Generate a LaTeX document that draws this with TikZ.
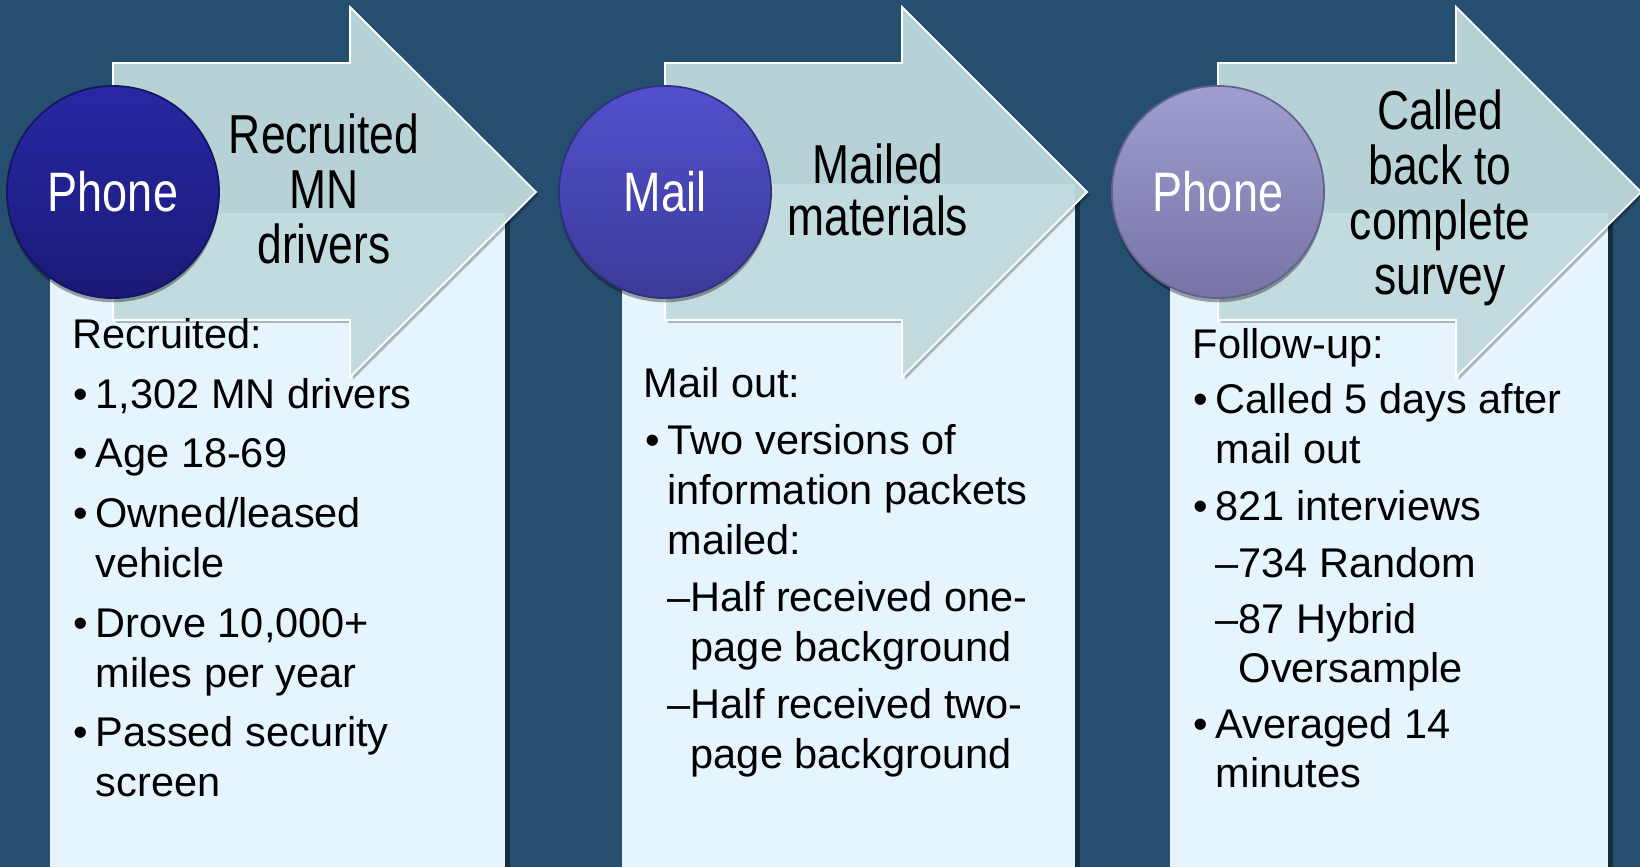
\documentclass[tikz,border=0pt]{standalone}
\usepackage{fontspec}
\setmainfont{Liberation Sans}
\newfontfamily\narrowsans[FakeStretch=0.81]{Liberation Sans}
\usetikzlibrary{shadows}
\definecolor{slide}{RGB}{38,78,110}
\definecolor{panelfill}{RGB}{230,244,253}
\definecolor{chevronfill}{RGB}{195,222,225}
\newcommand{\dotitem}{\llap{\textbullet\hspace{2.1pt}}}

\begin{document}
\begin{tikzpicture}[x=0.01cm, y=-0.01cm,
	panel/.style={fill=panelfill, drop shadow={shadow xshift=1.4pt, shadow yshift=0pt, opacity=.4, fill=black}},
	chevron/.style={fill=chevronfill, fill opacity=.93, draw=white, line width=0.5pt, line join=miter,
		drop shadow={shadow xshift=0.8pt, shadow yshift=-0.8pt, opacity=.25, fill=black}},
	disc/.style={circle, minimum size=2.12cm, inner sep=0pt, text=white, line width=0.5pt,
		font=\narrowsans\fontsize{15.8}{15.8}\selectfont,
		drop shadow={shadow xshift=0pt, shadow yshift=-1.2pt, opacity=.35, fill=black}},
	flowtext/.style={align=center, inner sep=0pt, font=\narrowsans\fontsize{15.6}{15.6}\selectfont},
	body/.style={anchor=base west, inner sep=0pt, font=\fontsize{11.8}{14}\selectfont}]
	\useasboundingbox (0,0) rectangle (1640,867);
	\fill[slide] (0,0) rectangle (1640,867);
	% panels
	\fill[panel] (50,213) rectangle (505,900);
	\fill[panel] (622,184) rectangle (1075,900);
	\fill[panel] (1170,213) rectangle (1608,900);
	% arrows
	\filldraw[chevron] (113,63) -- (350,63) -- (350,7) -- (536,192) -- (350,377) -- (350,320) -- (113,320) -- cycle;
	\filldraw[chevron] (665,63) -- (902,63) -- (902,7) -- (1087,192) -- (902,377) -- (902,320) -- (665,320) -- cycle;
	\filldraw[chevron] (1218,63) -- (1456,63) -- (1456,7) -- (1641,192) -- (1456,377) -- (1456,320) -- (1218,320) -- cycle;
	% circles
	\node[disc, top color={rgb,255:red,40;green,40;blue,165}, bottom color={rgb,255:red,27;green,25;blue,118}, draw={rgb,255:red,22;green,20;blue,95}] (c1) at (113,192) {Phone};
	\node[disc, top color={rgb,255:red,82;green,80;blue,204}, bottom color={rgb,255:red,60;green,58;blue,152}, draw={rgb,255:red,50;green,48;blue,125}] (c2) at (665,192) {Mail};
	\node[disc, top color={rgb,255:red,158;green,158;blue,208}, bottom color={rgb,255:red,118;green,116;blue,165}, draw={rgb,255:red,100;green,98;blue,140}] (c3) at (1218,192) {Phone};
	% arrow texts
	\node[flowtext] (a1) at (324,189) {Recruited\\MN\\drivers};
	\node[flowtext, font=\narrowsans\fontsize{15.6}{15}\selectfont] (a2) at (878,190) {Mailed\\materials};
	\node[flowtext] (a3) at (1440,198) {Called\\back to\\complete\\survey};
	% panel 1
	\node[body] (r0) at (72,348) {Recruited:};
	\node[body] (r1) at (95,408) {\dotitem 1,302 MN drivers};
	\node[body] (r2) at (95,467) {\dotitem Age 18-69};
	\node[body] (r3) at (95,527) {\dotitem Owned/leased};
	\node[body] (r4) at (95,577) {vehicle};
	\node[body] (r5) at (95,637) {\dotitem Drove 10,000+};
	\node[body] (r6) at (95,687) {miles per year};
	\node[body] (r7) at (95,746) {\dotitem Passed security};
	\node[body] (r8) at (95,796) {screen};
	% panel 2
	\node[body] (m0) at (643,397) {Mail out:};
	\node[body] (m1) at (667,454) {\dotitem Two versions of};
	\node[body] (m2) at (667,504) {information packets};
	\node[body] (m3) at (667,554) {mailed:};
	\node[body] (m4) at (667,611) {–Half received one-};
	\node[body] (m5) at (667,661) {\phantom{–}page background};
	\node[body] (m6) at (667,718) {–Half received two-};
	\node[body] (m7) at (667,768) {\phantom{–}page background};
	% panel 3
	\node[body] (f0) at (1192,358) {Follow-up:};
	\node[body] (f1) at (1215,413) {\dotitem Called 5 days after};
	\node[body] (f2) at (1215,463) {mail out};
	\node[body] (f3) at (1215,520) {\dotitem 821 interviews};
	\node[body] (f4) at (1215,577) {–734 Random};
	\node[body] (f5) at (1215,633) {–87 Hybrid};
	\node[body] (f6) at (1215,682) {\phantom{–}Oversample};
	\node[body] (f7) at (1215,738) {\dotitem Averaged 14};
	\node[body] (f8) at (1215,787) {minutes};
\end{tikzpicture}
\end{document}
